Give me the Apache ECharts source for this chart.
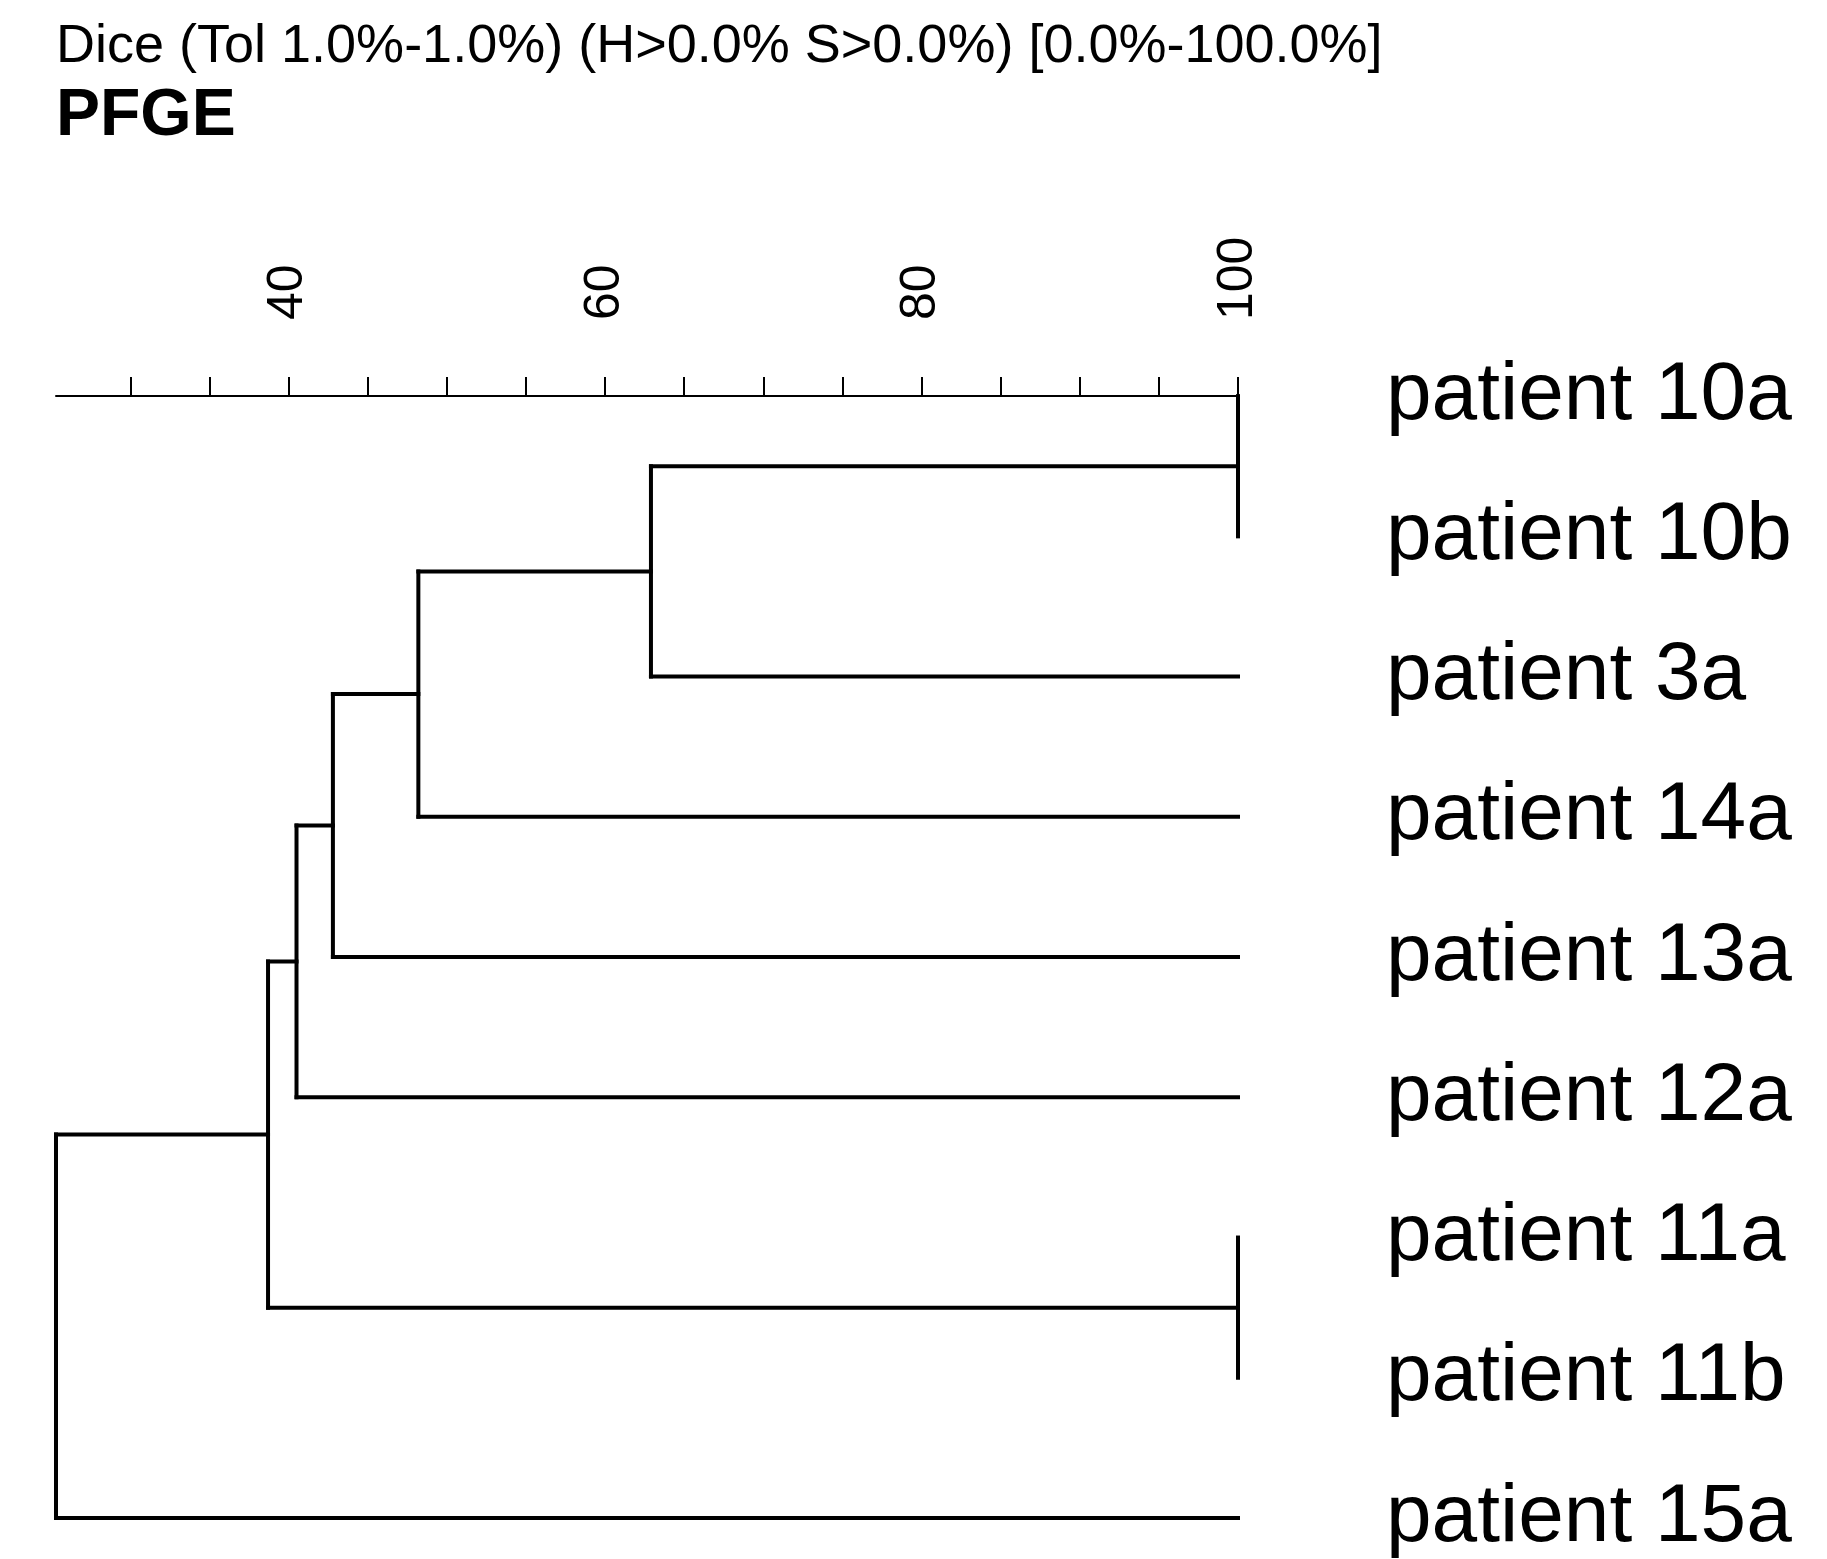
<!DOCTYPE html>
<html><head><meta charset="utf-8">
<script src="https://cdn.jsdelivr.net/npm/echarts@6/dist/echarts.min.js"></script>
<style>html,body{margin:0;background:#fff}#c{width:1827px;height:1559px}</style>
</head><body><div id="c"></div>
<script>
const leaves = ['patient 10a','patient 10b','patient 3a','patient 14a','patient 13a','patient 12a','patient 11a','patient 11b','patient 15a'];
// merges: [childA, childB, similarity]; child index <9 = leaf, >=9 = previous merge (9 + k)
const merges = [
  [0, 1, 100],
  [9, 2, 62.9],
  [10, 3, 48.2],
  [11, 4, 42.8],
  [12, 5, 40.5],
  [6, 7, 100],
  [13, 14, 38.7],
  [15, 8, 25.3]
];
const tickLabels = [40, 60, 80, 100];
const minorTicks = [30,35,40,45,50,55,60,65,70,75,80,85,90,95,100];

const nodes = leaves.map((l,i)=>({x:100,y:i}));
const segs = [];
merges.forEach(([a,b,s])=>{
  const A=nodes[a], B=nodes[b];
  segs.push([A.x,A.y,s,A.y]);
  segs.push([B.x,B.y,s,B.y]);
  segs.push([s,A.y,s,B.y]);
  nodes.push({x:s,y:(A.y+B.y)/2});
});

const chart = echarts.init(document.getElementById('c'));
chart.setOption({
  animation:false,
  graphic:[
    {type:'text',left:56,top:20,style:{text:'Dice (Tol 1.0%-1.0%) (H>0.0% S>0.0%) [0.0%-100.0%]',font:'54px Liberation Sans',fill:'#000'}},
    {type:'text',left:56,top:84,style:{text:'PFGE',font:'bold 66px Liberation Sans',fill:'#000'}}
  ],
  grid:{left:56,right:589,top:326,height:1193},
  xAxis:{type:'value',min:25.3,max:100,position:'top',splitLine:{show:false},
    axisLine:{lineStyle:{color:'#000',width:2}},
    axisTick:{customValues:minorTicks,length:19,lineStyle:{color:'#000',width:2}},
    axisLabel:{customValues:tickLabels,rotate:90,color:'#000',fontSize:50,fontFamily:'Liberation Sans',margin:6}},
  yAxis:{type:'value',min:-0.5,max:8,inverse:true,position:'right',splitLine:{show:false},
    axisLine:{show:false},axisTick:{show:false},
    axisLabel:{customValues:[0,1,2,3,4,5,6,7,8],formatter:v=>leaves[v],color:'#000',fontSize:82,fontFamily:'Liberation Sans',margin:148,align:'left'}},
  series:[{type:'custom',data:segs,renderItem:(p,api)=>{
    const p1=api.coord([api.value(0),api.value(1)]), p2=api.coord([api.value(2),api.value(3)]);
    return {type:'line',shape:{x1:p1[0],y1:p1[1],x2:p2[0],y2:p2[1]},style:{stroke:'#000',lineWidth:4,lineCap:'square'}};
  }}]
});
</script></body></html>
